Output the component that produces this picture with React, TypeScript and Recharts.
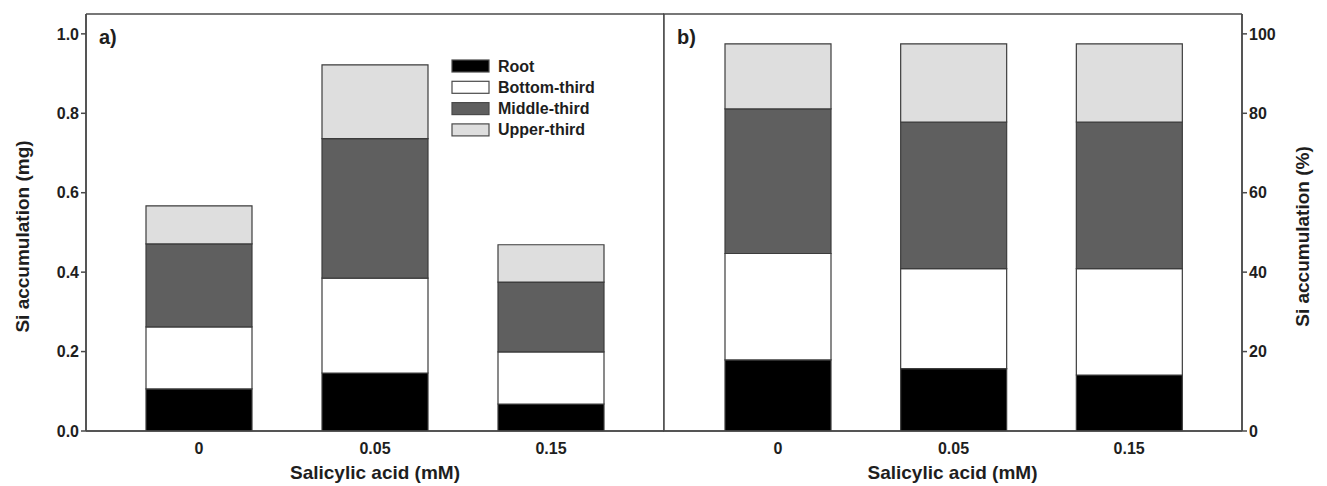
import React from "react";
import { BarChart, Bar, XAxis, YAxis, Legend, Label, CartesianGrid } from "recharts";

// ---- data ----
const categories = ["0", "0.05", "0.15"];
const seriesNames = ["Root", "Bottom-third", "Middle-third", "Upper-third"];
const seriesKeys = ["root", "bottom", "middle", "upper"];

// panel a) Si accumulation (mg)
const rootMg = [0.106, 0.146, 0.068];
const bottomMg = [0.156, 0.239, 0.131];
const middleMg = [0.209, 0.351, 0.176];
const upperMg = [0.096, 0.186, 0.094];

// panel b) Si accumulation (%)
const rootPct = [17.9, 15.7, 14.1];
const bottomPct = [26.8, 25.2, 26.8];
const middlePct = [36.4, 36.9, 36.9];
const upperPct = [16.4, 19.7, 19.7];

const mgTicks = [0, 0.2, 0.4, 0.6, 0.8, 1.0];
const pctTicks = [0, 20, 40, 60, 80, 100];

// ---- styles ----
const fills = ["#000000", "#ffffff", "#5f5f5f", "#dedede"];
const FONT = "'Liberation Sans', Arial, Helvetica, sans-serif";
const AXIS = "#4a4a4a";
const TEXT = "#1e1e1e";

const mgData = categories.map((c, i) => ({
  cat: c,
  root: rootMg[i],
  bottom: bottomMg[i],
  middle: middleMg[i],
  upper: upperMg[i],
}));
const pctData = categories.map((c, i) => ({
  cat: c,
  root: rootPct[i],
  bottom: bottomPct[i],
  middle: middlePct[i],
  upper: upperPct[i],
}));

const tickStyle = { fontFamily: FONT, fontWeight: 700, fontSize: 16, fill: TEXT };

function VLabel(props: any) {
  const { viewBox, value, dxFromLeft } = props;
  const cx = viewBox.x + dxFromLeft;
  const cy = viewBox.y + viewBox.height / 2 + 14;
  return (
    <text
      x={cx}
      y={cy}
      transform={`rotate(-90, ${cx}, ${cy})`}
      textAnchor="middle"
      dominantBaseline="central"
      style={{ fontFamily: FONT, fontWeight: 700, fontSize: 19, fill: TEXT }}
    >
      {value}
    </text>
  );
}

function XLabel(props: any) {
  const { viewBox, value } = props;
  const cx = viewBox.x + viewBox.width / 2;
  const cy = viewBox.y + 41;
  return (
    <text
      x={cx}
      y={cy}
      textAnchor="middle"
      dominantBaseline="central"
      style={{ fontFamily: FONT, fontWeight: 700, fontSize: 19, fill: TEXT }}
    >
      {value}
    </text>
  );
}

function LegendBox() {
  return (
    <svg width={170} height={90}>
      {seriesNames.map((n, i) => {
        const cy = 10 + i * 21.3;
        return (
          <g key={n}>
            <rect x={2} y={cy - 6} width={37} height={12} fill={fills[i]} stroke={AXIS} strokeWidth={1.2} />
            <text
              x={48}
              y={cy}
              dominantBaseline="central"
              style={{ fontFamily: FONT, fontWeight: 700, fontSize: 16, fill: TEXT }}
            >
              {n}
            </text>
          </g>
        );
      })}
    </svg>
  );
}

function bars() {
  return seriesKeys.map((k, i) => (
    <Bar
      key={k}
      dataKey={k}
      name={seriesNames[i]}
      stackId="s"
      fill={fills[i]}
      stroke="#3c3c3c"
      strokeWidth={1.2}
      barSize={106}
      isAnimationActive={false}
    />
  ));
}

function frame() {
  return (
    <CartesianGrid
      stroke={AXIS}
      strokeWidth={1.5}
      fill="none"
      horizontalCoordinatesGenerator={({ offset }: any) => [offset.top, offset.top + offset.height]}
      verticalCoordinatesGenerator={({ offset }: any) => [offset.left, offset.left + offset.width]}
    />
  );
}

const panelLabel: React.CSSProperties = {
  position: "absolute",
  fontFamily: FONT,
  fontWeight: 700,
  fontSize: 20,
  color: TEXT,
  lineHeight: "20px",
};

export default function App() {
  return (
    <div style={{ position: "absolute", left: 0, top: 0, width: 1327, height: 486, background: "#fff" }}>
      <div style={{ position: "absolute", left: 0, top: 0 }}>
        <BarChart width={665} height={486} data={mgData} margin={{ top: 14, right: 1, left: 0, bottom: 0 }}>
          {frame()}
          <XAxis
            dataKey="cat"
            padding={{ left: 25, right: 25 }}
            tickLine={false}
            tickMargin={6}
            axisLine={{ stroke: AXIS, strokeWidth: 1.5 }}
            tick={tickStyle}
            height={55}
          >
            <Label content={<XLabel value="Salicylic acid (mM)" />} />
          </XAxis>
          <YAxis
            width={86}
            domain={[0, 1.05]}
            ticks={mgTicks}
            tickFormatter={(v: number) => v.toFixed(1)}
            tickSize={5}
            tickLine={{ stroke: AXIS, strokeWidth: 1.5 }}
            axisLine={{ stroke: AXIS, strokeWidth: 1.5 }}
            tick={tickStyle}
            allowDataOverflow
          >
            <Label content={<VLabel value="Si accumulation (mg)" dxFromLeft={22} />} />
          </YAxis>
          <Legend
            layout="vertical"
            align="center"
            verticalAlign="middle"
            content={<LegendBox />}
            wrapperStyle={{ left: 450, top: 56, width: 170, height: 90 }}
          />
          {bars()}
        </BarChart>
      </div>
      <div style={{ position: "absolute", left: 663, top: 0 }}>
        <BarChart width={664} height={486} data={pctData} margin={{ top: 14, right: 0, left: 0, bottom: 0 }}>
          {frame()}
          <XAxis
            dataKey="cat"
            padding={{ left: 27, right: 25 }}
            tickLine={false}
            tickMargin={6}
            axisLine={{ stroke: AXIS, strokeWidth: 1.5 }}
            tick={tickStyle}
            height={55}
          >
            <Label content={<XLabel value="Salicylic acid (mM)" />} />
          </XAxis>
          <YAxis
            orientation="right"
            width={85}
            domain={[0, 105]}
            ticks={pctTicks}
            tickSize={5}
            tickLine={{ stroke: AXIS, strokeWidth: 1.5 }}
            axisLine={{ stroke: AXIS, strokeWidth: 1.5 }}
            tick={tickStyle}
            allowDataOverflow
          >
            <Label content={<VLabel value="Si accumulation (%)" dxFromLeft={60} />} />
          </YAxis>
          {bars()}
        </BarChart>
      </div>
      <div style={{ ...panelLabel, left: 99, top: 27 }}>a)</div>
      <div style={{ ...panelLabel, left: 677, top: 27 }}>b)</div>
    </div>
  );
}
